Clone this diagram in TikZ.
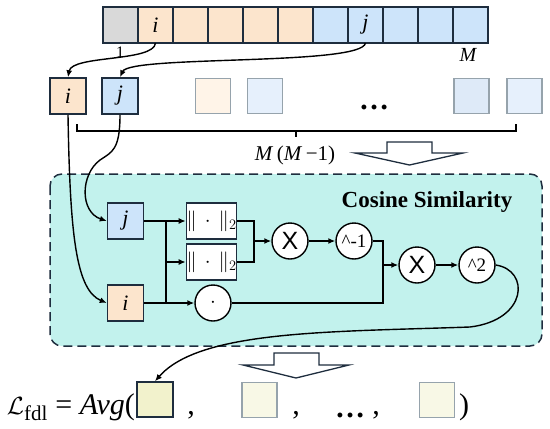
\documentclass[tikz,border=0pt]{standalone}
\usepackage{fontspec}
\setmainfont{Liberation Serif}
\newfontfamily\xsans{Liberation Sans}
\usetikzlibrary{arrows.meta}
\definecolor{navy}{RGB}{30,45,62}
\definecolor{peach}{RGB}{252,229,205}
\definecolor{lblue}{RGB}{205,228,250}
\definecolor{gcell}{RGB}{217,217,217}
\definecolor{fpeach}{RGB}{255,244,232}
\definecolor{fblue}{RGB}{230,240,252}
\definecolor{fblueb}{RGB}{222,234,248}
\definecolor{fborder}{RGB}{150,163,172}
\definecolor{cyanbg}{RGB}{194,242,237}
\definecolor{ybox}{RGB}{242,242,204}
\definecolor{yboxb}{RGB}{248,248,230}
\begin{document}
\begin{tikzpicture}[x=1pt,y=-1pt,
  cell/.style={draw=navy,line width=1.3pt,minimum width=35pt,minimum height=36pt,inner sep=0pt,outer sep=0pt},
  sq/.style={draw=navy,line width=1.5pt,minimum width=36pt,minimum height=36pt,inner sep=0pt,font=\fontsize{22}{22}\selectfont\itshape},
  fsq/.style={draw=fborder,line width=1.5pt,minimum width=35pt,minimum height=35pt,inner sep=0pt},
  normbox/.style={draw=navy,fill=white,line width=1.5pt,minimum width=49pt,minimum height=36pt,inner sep=0pt,font=\fontsize{20}{20}\selectfont},
  op/.style={circle,draw=black,fill=white,line width=1.4pt,minimum size=36pt,inner sep=0pt},
  arr/.style={-{Latex[length=7pt,width=6pt]},line width=1.4pt},
  conn/.style={line width=1.4pt},
  hollow/.style={draw=navy,line width=1.3pt,fill=white,line join=miter},
  big/.style={font=\fontsize{30}{30}\selectfont,inner sep=0pt}
]
\useasboundingbox (0,0) rectangle (550,429);

% top bar
\foreach \k/\c in {1/gcell,2/peach,3/peach,4/peach,5/peach,6/peach,7/lblue,8/lblue,9/lblue,10/lblue,11/lblue}
  \node[cell,fill=\c] (t\k) at ({120.5+35*(\k-1)},25) {};
\node[font=\fontsize{22}{22}\selectfont\itshape] (ti) at (t2) {i};
\node[font=\fontsize{22}{22}\selectfont\itshape] (tj) at (t8) {j};
\node[font=\fontsize{16}{16}\selectfont] (one) at (120,52) {1};
\node[font=\fontsize{20}{20}\selectfont\itshape] (mm) at (468,55) {M};

% row 2
\node[sq,fill=peach] (ri) at (68,96) {i};
\node[sq,fill=lblue] (rj) at (120,96) {j};
\node[fsq,fill=fpeach] (f1) at (213,96) {};
\node[fsq,fill=fblue] (f2) at (265,96) {};
\node[fsq,fill=fblueb] (f3) at (471.5,96) {};
\node[fsq,fill=fblue] (f4) at (524.5,96) {};
\node[anchor=base,font=\fontsize{30}{30}\selectfont\bfseries] (rdots) at (374,109) {…};

\draw[arr] (t2.south) .. controls (154,62) and (72,55) .. (ri.north);
\draw[arr] (t8.south) .. controls (362,66) and (130,55) .. (rj.north);

% brace
\draw[line width=1.4pt] (77,124) -- (77,131) -- (516,131) -- (516,124);
\draw[line width=1.4pt] (296,131) -- (296,137);
\node[font=\fontsize{21}{21}\selectfont] (mlab) at (295,155) {\textit{M}\,(\textit{M}\,−1)};

% hollow arrow 1
\draw[hollow] (387,142) -- (432,142) -- (432,153) -- (463,153) -- (409.5,165) -- (355,153) -- (387,153) -- cycle;

% cosine similarity box
\draw[navy,line width=1.5pt,dash pattern=on 9pt off 5pt,fill=cyanbg,rounded corners=12pt] (50,174) rectangle (542,346);
\node[font=\fontsize{23}{23}\selectfont\bfseries] (cs) at (427,202) {Cosine Similarity};

\node[sq,fill=lblue] (cj) at (125.5,221) {j};
\node[sq,fill=peach] (ci) at (125.5,303) {i};
\node[normbox] (n1) at (211.5,221) {$\|\,\cdot\,\|_2$};
\node[normbox] (n2) at (211.5,262) {$\|\,\cdot\,\|_2$};
\node[op,font=\fontsize{20}{20}\selectfont] (d) at (213,303) {$\cdot$};
\node[op,font=\xsans\fontsize{25}{25}\selectfont] (x1) at (290,241) {X};
\node[op,font=\fontsize{19}{19}\selectfont] (p1) at (354,241) {\textasciicircum-1};
\node[op,font=\xsans\fontsize{25}{25}\selectfont] (x2) at (417,265) {X};
\node[op,font=\fontsize{19}{19}\selectfont] (p2) at (477,265) {\textasciicircum2};

\coordinate (ja) at (166,221);
\coordinate (jb) at (166,262);
\coordinate (jc) at (166,303);
\draw[arr] (cj.east) -- (n1.west);
\draw[conn] (ja) -- (jc);
\draw[arr] (jb) -- (n2.west);
\draw[arr] (ci.east) -- (d.west);

\coordinate (ma) at (254,221);
\coordinate (mb) at (254,262);
\coordinate (mc) at (254,241);
\draw[conn] (n1.east) -- (ma) -- (mb) -- (n2.east);
\draw[arr] (mc) -- (x1.west);
\draw[arr] (x1.east) -- (p1.west);

\coordinate (qa) at (383,241);
\coordinate (qb) at (383,303);
\coordinate (qc) at (383,265);
\draw[conn] (p1.east) -- (qa) -- (qb) -- (d.east);
\draw[arr] (qc) -- (x2.west);
\draw[arr] (x2.east) -- (p2.west);

% incoming curves
\draw[arr] (ri.south) .. controls (70,235) and (76,290) .. (ci.west);
\draw[arr] (rj.south) .. controls (120,150) and (112,152) .. (100,160) .. controls (80,175) and (80,212) .. (cj.west);

% bottom row
\node[draw=navy,line width=1.5pt,fill=ybox,minimum width=36pt,minimum height=35pt,inner sep=0pt] (L1) at (155,399.5) {};
\node[fsq,fill=yboxb] (L2) at (259.5,400) {};
\node[fsq,fill=yboxb] (L3) at (437,400) {};
\node[big,anchor=base east] (lt) at (135,414) {$\mathcal{L}_{\mathrm{fdl}}$ = \textit{Avg}(};
\node[big,anchor=base] (c1) at (191,414) {,};
\node[big,anchor=base] (c2) at (296,414) {,};
\node[big,anchor=base,font=\fontsize{30}{30}\selectfont\bfseries] (bd) at (350,417) {…};
\node[big,anchor=base] (c3) at (376,414) {,};
\node[big,anchor=base west] (rp) at (459,414) {)};

% hollow arrow 2
\draw[hollow] (274,353) -- (319,353) -- (319,365) -- (349,365) -- (296,378) -- (243,365) -- (274,365) -- cycle;

% long curve
\draw[arr] (p2.east) .. controls (530,270) and (528,320) .. (470,327) .. controls (330,332) and (200,330) .. (L1.north);
\end{tikzpicture}
\end{document}
